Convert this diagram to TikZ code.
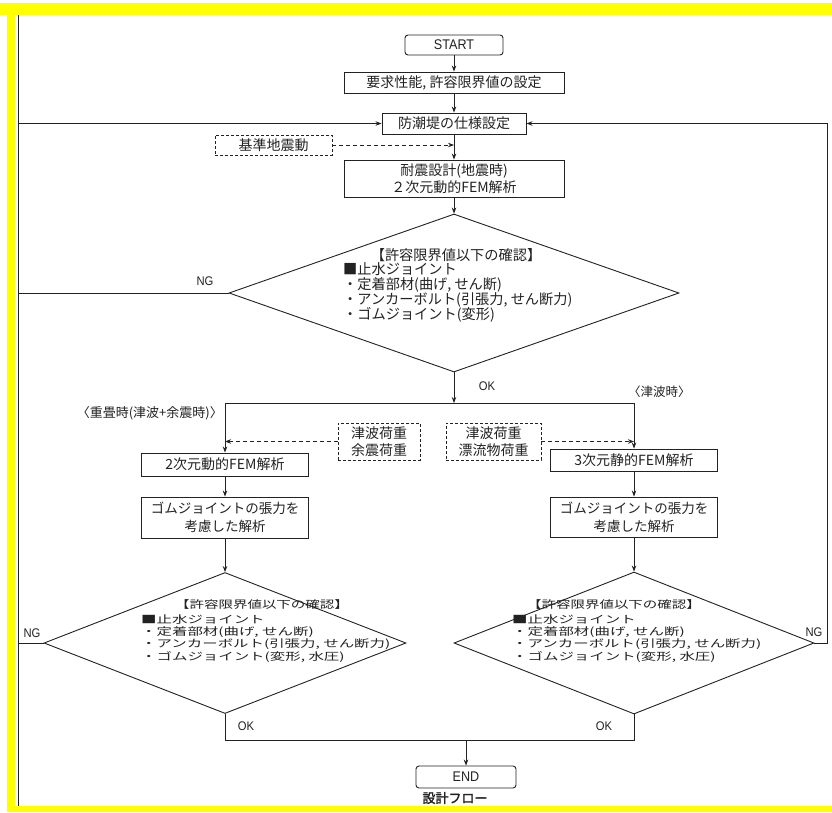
\documentclass[tikz,border=0pt]{standalone}
\usepackage{fontspec}
\setmainfont{Noto Sans CJK JP}[AutoFakeBold=2]
\newfontfamily\lat[FakeStretch=0.9]{Liberation Sans}
\usetikzlibrary{shapes.geometric,arrows.meta}
\definecolor{ink}{HTML}{222222}
\definecolor{frameyellow}{HTML}{FFFF00}
\newcommand{\widetxt}[2]{\scalebox{#1}[1]{\fontsize{10.5}{11}\selectfont\begin{tabular}{@{}l@{}}#2\end{tabular}}}
\tikzset{
 box/.style={draw=ink, line width=0.9pt, inner sep=0pt, align=center, font=\fontsize{14}{17}\selectfont, text=ink},
 dbox/.style={box, dash pattern=on 3pt off 2pt},
 term/.style={box, rounded corners=3pt, font=\lat\fontsize{14}{16}\selectfont},
 dia/.style={diamond, draw=ink, line width=0.9pt, inner sep=0pt},
 conn/.style={draw=ink, line width=0.8pt},
 arr/.style={conn, -{Stealth[length=6pt,width=4.5pt]}},
 darr/.style={arr, dash pattern=on 4pt off 3pt},
 lbl/.style={text=ink, inner sep=0pt, font=\lat\fontsize{12.5}{14}\selectfont},
 jl/.style={text=ink, inner sep=0pt},
 bigtxt/.style={font=\fontsize{14.2}{15}\selectfont},
}
\begin{document}
\begin{tikzpicture}[x=1pt,y=-1pt]
\fill[white] (0,0) rectangle (832,812);
\useasboundingbox (0,0) rectangle (832,812);
% frame
\fill[frameyellow] (0,3) rectangle (832,15);
\fill[frameyellow] (7,3) rectangle (15,812);
\fill[frameyellow] (7,806) rectangle (832,812);
\draw[ink, line width=0.8pt] (18,15) -- (18,806);

% top column
\node[term, minimum width=98pt, minimum height=20pt] (start) at (454,45) {START};
\node[box, minimum width=220pt, minimum height=21pt] (req) at (454,82.5) {要求性能, 許容限界値の設定};
\node[box, minimum width=144pt, minimum height=21pt] (spec) at (454,123.5) {防潮堤の仕様設定};
\node[dbox, minimum width=117pt, minimum height=20pt] (eq) at (273.5,145) {基準地震動};
\node[box, minimum width=220pt, minimum height=37pt] (seis) at (454,178.5) {耐震設計(地震時)\\２次元動的FEM解析};
\node[dia, minimum width=450pt, minimum height=158pt] (d1) at (454,293) {};
\node[jl, bigtxt] (d1h) at (456,255) {【許容限界値以下の確認】};
\node[jl, bigtxt, anchor=west, align=left] (d1t) at (343,292.5) {■止水ジョイント\\・定着部材(曲げ, せん断)\\・アンカーボルト(引張力, せん断力)\\・ゴムジョイント(変形)};

\draw[arr] (start) -- (req);
\draw[arr] (req) -- (spec);
\draw[arr] (spec) -- (seis);
\coordinate (eqhit) at (454,145);
\draw[darr] (eq.east) -- (eqhit);
\draw[arr] (seis) -- (d1.north);

\node[lbl] (ng1) at (205,281) {NG};
\node[lbl] (ok1) at (487,386) {OK};

% split
\coordinate (sp) at (454,403);
\coordinate (spl) at (225,403);
\coordinate (spr) at (634,403);
\draw[arr] (d1.south) -- (sp);
\draw[conn] (spl) -- (spr);

\node[jl, anchor=east, font=\fontsize{13}{15}\selectfont] (lblA) at (223,413) {〈重畳時(津波+余震時)〉};
\node[jl, anchor=west, font=\fontsize{12.5}{15}\selectfont] (lblB) at (628,392) {〈津波時〉};

\node[dbox, minimum width=82pt, minimum height=37pt, font=\fontsize{14}{17}\selectfont] (ta) at (379,441.5) {津波荷重\\余震荷重};
\node[dbox, minimum width=95pt, minimum height=37pt, font=\fontsize{14}{17}\selectfont] (tb) at (493.5,441.5) {津波荷重\\漂流物荷重};

\node[box, minimum width=167pt, minimum height=23pt] (l1) at (225,464.5) {2次元動的FEM解析};
\node[box, minimum width=167pt, minimum height=41pt, font=\fontsize{13.5}{18}\selectfont] (l2) at (225,517.5) {ゴムジョイントの張力を\\考慮した解析};
\node[box, minimum width=167pt, minimum height=22pt] (r1) at (634,460) {3次元静的FEM解析};
\node[box, minimum width=167pt, minimum height=40pt, font=\fontsize{13.5}{18}\selectfont] (r2) at (634,517) {ゴムジョイントの張力を\\考慮した解析};

\coordinate (tahit) at (225,441.5);
\coordinate (tbhit) at (634,441.5);
\draw[darr] (ta.west) -- (tahit);
\draw[darr] (tb.east) -- (tbhit);
\draw[arr] (spl) -- (l1.north);
\draw[arr] (spr) -- (r1.north);
\draw[arr] (l1) -- (l2);
\draw[arr] (r1) -- (r2);

% lower diamonds
\node[dia, minimum width=362pt, minimum height=141pt] (d2) at (225,643) {};
\node[dia, minimum width=360pt, minimum height=142pt] (d3) at (634,643) {};
\draw[arr] (l2) -- (d2.north);
\draw[arr] (r2) -- (d3.north);
\node[jl] (d2h) at (262,606) {\widetxt{1.38}{【許容限界値以下の確認】}};
\node[jl, anchor=west] (d2t) at (141,639) {\widetxt{1.47}{■止水ジョイント\\・定着部材(曲げ, せん断)\\・アンカーボルト(引張力, せん断力)\\・ゴムジョイント(変形, 水圧)}};
\node[jl] (d3h) at (614,606) {\widetxt{1.38}{【許容限界値以下の確認】}};
\node[jl, anchor=west] (d3t) at (512,639) {\widetxt{1.47}{■止水ジョイント\\・定着部材(曲げ, せん断)\\・アンカーボルト(引張力, せん断力)\\・ゴムジョイント(変形, 水圧)}};

\node[lbl] (ng2) at (32,633) {NG};
\node[lbl] (ng3) at (814,632) {NG};
\node[lbl] (ok2) at (246,726) {OK};
\node[lbl] (ok3) at (604,726) {OK};

% join and end
\coordinate (jl) at (225,740);
\coordinate (jr) at (634,740);
\coordinate (jm) at (466,740);
\draw[conn] (d2.south) -- (jl) -- (jr) -- (d3.south);
\node[term, minimum width=100pt, minimum height=22pt] (end) at (466,777) {END};
\draw[arr] (jm) -- (end.north);
\node[jl, font=\bfseries\fontsize{13}{15}\selectfont] (cap) at (455,798) {設計フロー};

% feedback loops
\coordinate (fl1) at (18,293);
\coordinate (fl2) at (18,643);
\coordinate (fltop) at (18,123.5);
\draw[arr] (d1.west) -- (fl1) -- (fltop) -- (spec.west);
\draw[conn] (d2.west) -- (fl2) -- (fl1);
\coordinate (fr1) at (827,643);
\coordinate (frtop) at (827,123.5);
\draw[arr] (d3.east) -- (fr1) -- (frtop) -- (spec.east);
\end{tikzpicture}
\end{document}
